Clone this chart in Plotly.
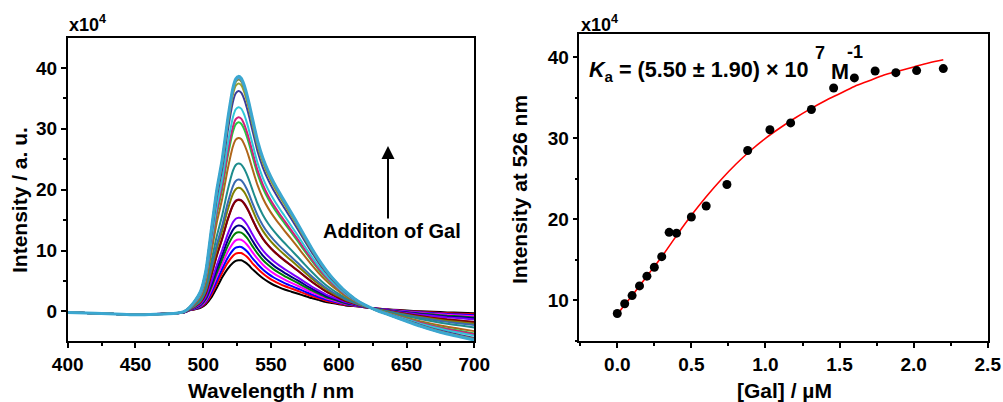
import plotly.graph_objects as go

# ---- titration data -------------------------------------------------------
# [Gal] additions (uM) and emission intensity at 526 nm (x10^4)
gal_conc = [0.0, 0.05, 0.10, 0.15, 0.20, 0.25, 0.30, 0.35, 0.40, 0.50, 0.60,
            0.74, 0.88, 1.03, 1.17, 1.31, 1.46, 1.60, 1.74, 1.88, 2.02, 2.20]
intensity_526 = [8.4, 9.6, 10.6, 11.8, 13.0, 14.1, 15.4, 18.4, 18.3, 20.3, 21.65,
                 24.3, 28.5, 31.05, 31.9, 33.55, 36.2, 37.45, 38.3, 38.1, 38.35, 38.6]

# binding-isotherm fit curve
fit_conc = [0.0, 0.1, 0.2, 0.3, 0.4, 0.5, 0.6, 0.7, 0.8, 0.9, 1.0, 1.1,
            1.2, 1.3, 1.4, 1.5, 1.6, 1.7, 1.8, 1.9, 2.0, 2.1, 2.2]
fit_int = [8.3, 10.6, 13.0, 15.4, 18.0, 20.5, 22.8, 24.9, 26.8, 28.5, 30.0, 31.3,
           32.5, 33.6, 34.6, 35.5, 36.4, 37.1, 37.8, 38.3, 38.8, 39.3, 39.7]

# ---- emission spectra -----------------------------------------------------
wavelength = [400, 420, 440, 450, 460, 480, 486, 490, 494, 498, 502, 506, 510,
              514, 518, 522, 524, 526, 528, 530, 532, 534, 536, 538, 540, 544,
              548, 552, 556, 560, 565, 570, 575, 580, 585, 590, 595, 600, 605,
              610, 615, 620, 625, 630, 640, 650, 660, 670, 680, 690, 700]
# spectrum before any Gal is added
spec_first = [-0.15, -0.3, -0.45, -0.5, -0.45, -0.3, -0.15, 0.2, 0.35, 0.6, 1.2,
              2.3, 3.9, 5.6, 7.0, 8.0, 8.3, 8.4, 8.4, 8.2, 7.9, 7.5, 7.0, 6.6,
              6.2, 5.45, 4.85, 4.35, 3.95, 3.6, 3.25, 2.9, 2.55, 2.2, 1.9, 1.6,
              1.4, 1.2, 1.0, 0.9, 0.8, 0.65, 0.55, 0.45, 0.3, 0.15, 0.05, -0.05,
              -0.15, -0.2, -0.3]
# spectrum at saturation
spec_last = [-0.15, -0.3, -0.45, -0.55, -0.5, -0.3, 0.0, 0.7, 1.8, 3.3, 6.8,
             13.5, 20.0, 25.0, 31.5, 36.8, 38.2, 38.6, 38.3, 37.3, 35.8, 34.0,
             32.0, 30.0, 28.1, 25.2, 23.0, 21.2, 19.6, 18.1, 16.2, 14.3, 12.3,
             10.4, 8.6, 7.0, 5.6, 4.4, 3.3, 2.4, 1.6, 1.0, 0.45, 0.0, -0.8,
             -1.6, -2.4, -3.1, -3.7, -4.2, -4.7]

line_colors = ["#000000", "#FF0000", "#0000FF", "#FF00FF", "#008000", "#000080",
               "#7B00FF", "#800080", "#800000", "#808000", "#3A6AB0", "#1E8C8C",
               "#B0661A", "#22C840", "#D0207A", "#30C8D8", "#3A3C9A", "#9AA030",
               "#C06A80", "#7A8A40", "#6A9AC0", "#3BA7D0"]

BOLD = "Liberation Sans, Arial"
TICK_FONT = dict(family=BOLD, size=19, color="black", weight="bold")
TITLE_FONT = dict(family=BOLD, size=21, color="black", weight="bold")

fig = go.Figure()

i0, i1 = intensity_526[0], intensity_526[-1]
for k, (peak, col) in enumerate(zip(intensity_526, line_colors)):
    frac = (peak - i0) / (i1 - i0)
    ys = [a + frac * (b - a) for a, b in zip(spec_first, spec_last)]
    fig.add_trace(go.Scatter(
        x=wavelength, y=ys, mode="lines",
        line=dict(color=col, width=3 if k == len(intensity_526) - 1 else 2,
                  shape="spline", smoothing=0.5),
        xaxis="x", yaxis="y", showlegend=False, hoverinfo="skip"))

fig.add_trace(go.Scatter(
    x=fit_conc, y=fit_int, mode="lines",
    line=dict(color="#FF0000", width=1.6, shape="spline", smoothing=1.0),
    xaxis="x2", yaxis="y2", showlegend=False))
fig.add_trace(go.Scatter(
    x=gal_conc, y=intensity_526, mode="markers",
    marker=dict(color="black", size=9),
    xaxis="x2", yaxis="y2", showlegend=False))

axis_common = dict(
    showline=True, linecolor="black", linewidth=1.5, mirror=True,
    ticks="outside", ticklen=5, tickwidth=1.5, tickcolor="black",
    showgrid=False, zeroline=False, tickfont=TICK_FONT, automargin=False,
)

fig.update_layout(
    width=1003, height=402,
    margin=dict(l=0, r=0, t=0, b=0, autoexpand=False),
    paper_bgcolor="white", plot_bgcolor="white",
    xaxis=dict(domain=[0.0675, 0.4729], range=[400, 700], dtick=50, tick0=400,
               minor=dict(dtick=25, ticks="outside", ticklen=3, tickcolor="black"),
               anchor="y", **axis_common),
    yaxis=dict(domain=[0.1517, 0.9062], range=[-4.85, 44.95], dtick=10, tick0=0,
               minor=dict(dtick=5, ticks="outside", ticklen=3, tickcolor="black"),
               anchor="x", **axis_common),
    xaxis2=dict(domain=[0.5776, 0.9848], range=[-0.256, 2.5], dtick=0.5, tick0=0,
                tickformat=".1f",
                minor=dict(dtick=0.25, ticks="outside", ticklen=3, tickcolor="black"),
                anchor="y2", **axis_common),
    yaxis2=dict(domain=[0.1517, 0.9147], range=[5.0, 42.83], dtick=10, tick0=0,
                minor=dict(dtick=5, ticks="outside", ticklen=3, tickcolor="black"),
                anchor="x2", **axis_common),
)

ann = [
    dict(text="Wavelength / nm", x=271, y=390),
    dict(text="[Gal] / µM", x=784, y=390),
    dict(text="Intensity / a. u.", x=20, y=200, textangle=-90),
    dict(text="Intensity at 526 nm", x=520, y=190, textangle=-90),
]
for a in ann:
    fig.add_annotation(xref="paper", yref="paper", x=a["x"] / 1003, y=1 - a["y"] / 402,
                       text=a["text"], showarrow=False, font=TITLE_FONT,
                       textangle=a.get("textangle", 0),
                       xanchor="center", yanchor="middle")

for xpx in (67, 579):
    fig.add_annotation(xref="paper", yref="paper", x=xpx / 1003, y=1 - 23 / 402,
                       text="x10<sup>4</sup>", showarrow=False,
                       font=dict(family=BOLD, size=18, color="black", weight="bold"),
                       xanchor="left", yanchor="middle")

fig.add_annotation(xref="paper", yref="paper", x=392 / 1003, y=1 - 231 / 402,
                   text="Additon of Gal", showarrow=False,
                   font=dict(family=BOLD, size=20, color="black", weight="bold"),
                   xanchor="center", yanchor="middle")
fig.add_annotation(xref="paper", yref="paper", axref="pixel", ayref="pixel",
                   x=388 / 1003, y=1 - 146 / 402, ax=0, ay=74,
                   text="", showarrow=True, arrowhead=2, arrowsize=1.3,
                   arrowwidth=2, arrowcolor="black")

# association constant label, with raised exponents set apart as in Origin
KA_FONT = dict(family=BOLD, size=21.6, color="black", weight="bold")
EXP_FONT = dict(family=BOLD, size=18, color="black", weight="bold")
ka_parts = [
    dict(text="<i>K</i><sub>a</sub> = (5.50 ± 1.90) × 10", x=587, y=71, font=KA_FONT, anchor="left"),
    dict(text="7", x=820, y=53, font=EXP_FONT, anchor="center"),
    dict(text="M", x=840, y=71, font=KA_FONT, anchor="center"),
    dict(text="-1", x=855, y=52, font=EXP_FONT, anchor="center"),
]
for p in ka_parts:
    fig.add_annotation(xref="paper", yref="paper", x=p["x"] / 1003, y=1 - p["y"] / 402,
                       text=p["text"], showarrow=False, font=p["font"],
                       xanchor=p["anchor"], yanchor="middle")

fig.write_html("out.html")
